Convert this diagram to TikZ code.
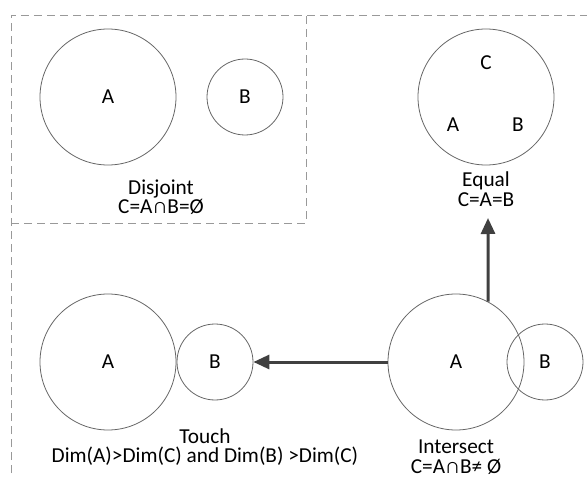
\documentclass[tikz,border=0pt]{standalone}
\usepackage{fontspec}
\setmainfont{Carlito}
\usetikzlibrary{arrows.meta}

\tikzset{
  ring/.style={circle, draw=black!60, line width=0.8pt, inner sep=0pt},
  big/.style={ring, minimum size=136pt},
  small/.style={ring, minimum size=76pt},
  txt/.style={inner sep=0pt, align=center},
  frame/.style={draw=black!40, line width=0.8pt, dash pattern=on 8pt off 5pt},
  arr/.style={-{Triangle[length=16pt,width=14pt]}, draw=black!75, line width=3pt}
}

\begin{document}
\begin{tikzpicture}[x=1pt,y=-1pt, font=\fontsize{21.3}{19.5}\selectfont]
\useasboundingbox (0,0) rectangle (587,484);
% dashed frame
\draw[frame] (11,473) -- (11,15) -- (587,15);
\draw[frame] (11,223) -- (306,223) -- (306,15);
% disjoint
\node (da) at (108,97) [big] {A};
\node (db) at (245,97) [small] {B};
\node (dl) at (161,197) [txt] {Disjoint\\C=A∩B=Ø};
% equal
\node (eq) at (486,97) [big] {};
\node (ec) at (486,63) {C};
\node (ea) at (453,125) {A};
\node (eb) at (518,125) {B};
\node (el) at (486,189) [txt] {Equal\\C=A=B};
% touch
\node (ta) at (108,362) [big] {A};
\node (tb) at (215,362) [small] {B};
\node (tl) at (205,447) [txt] {Touch\\Dim(A)>Dim(C) and Dim(B) >Dim(C)};
% intersect
\node (ia) at (456,362) [big] {A};
\node (ib) at (545,362) [small] {B};
\node (il) at (456,457) [txt] {Intersect\\C=A∩B≠ Ø};
\coordinate (et) at (488,218);
\draw[arr] (ia.west) -- (tb.east);
\draw[arr] (ia.62) -- (et);
\end{tikzpicture}
\end{document}
